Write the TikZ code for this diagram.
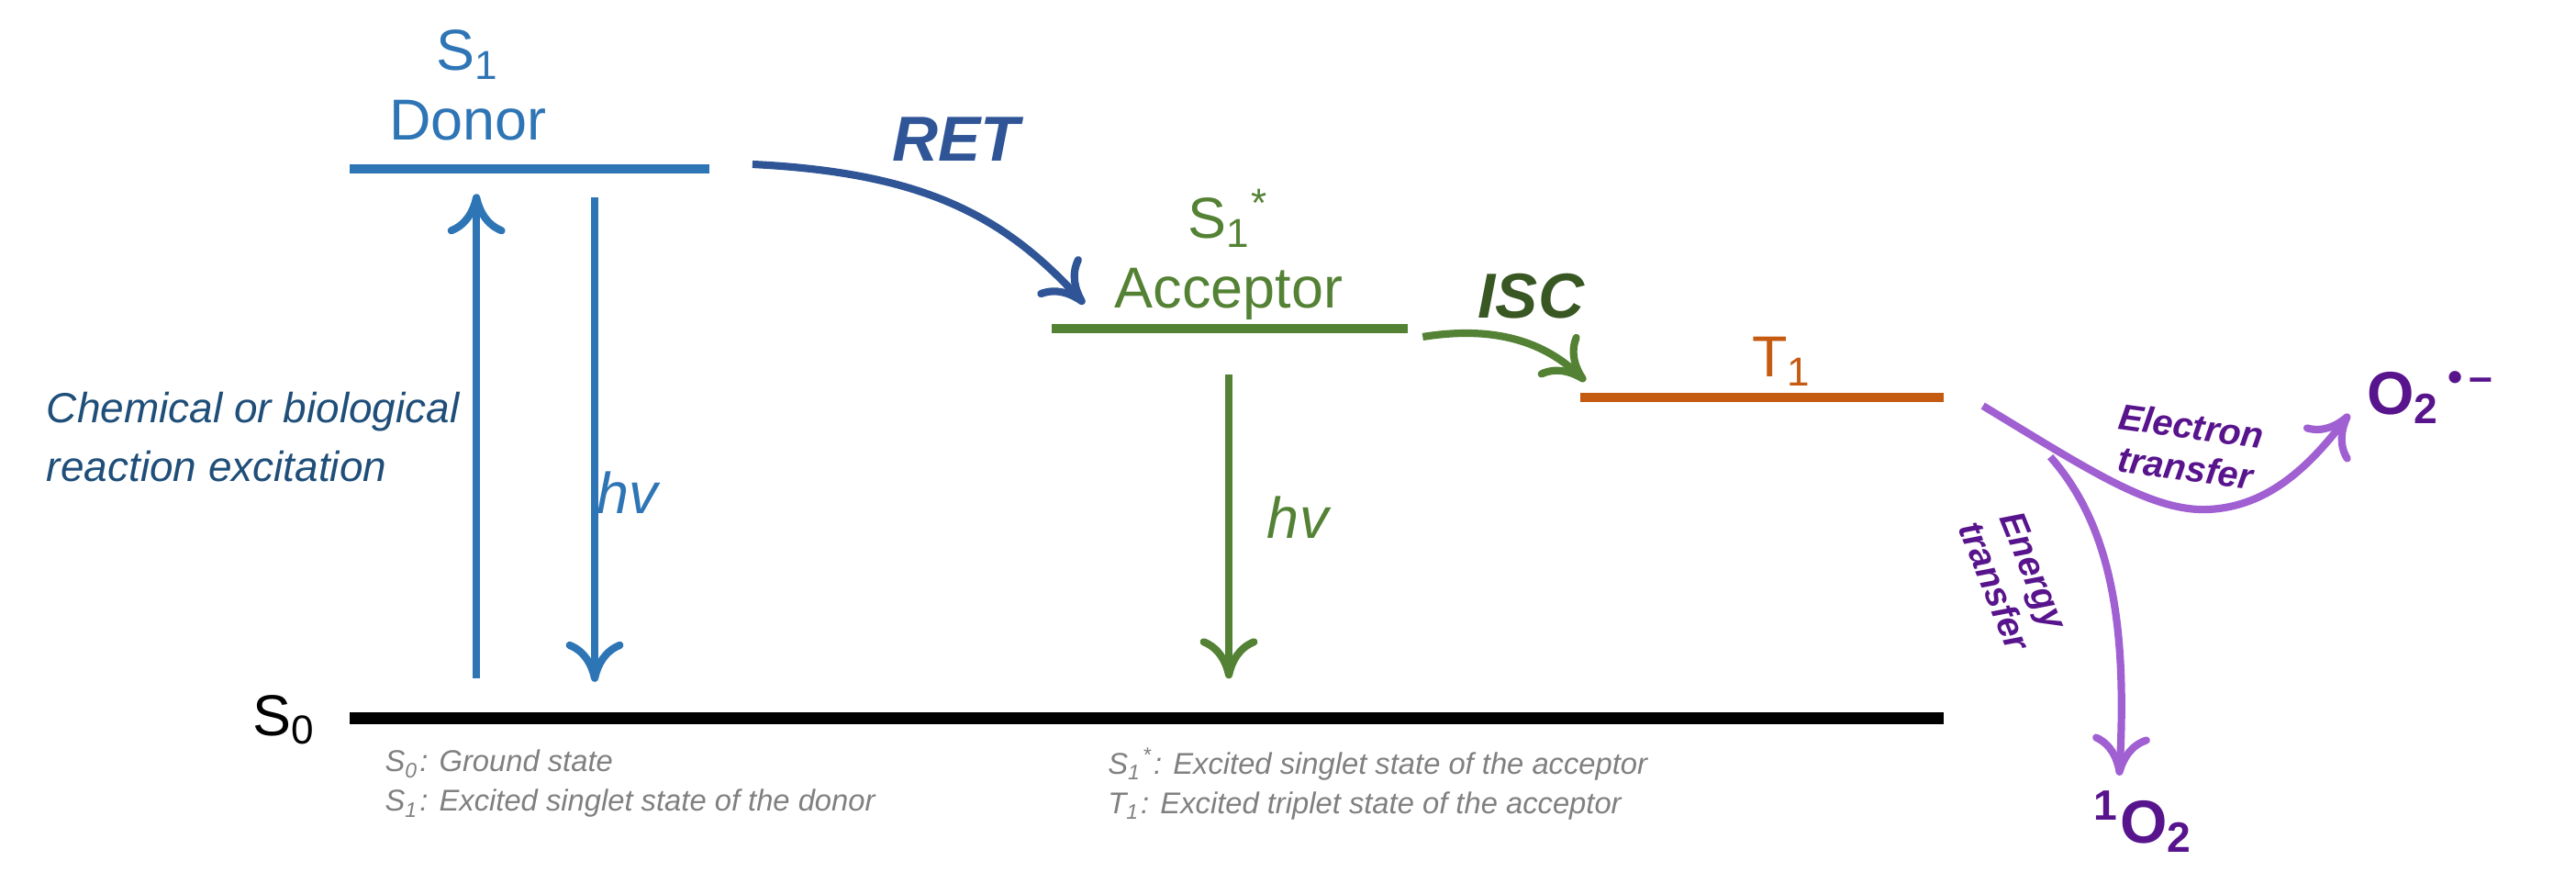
\documentclass[tikz,border=0pt]{standalone}
\usepackage{fontspec}
\setmainfont{Liberation Sans}
\usetikzlibrary{arrows.meta}
\definecolor{dblue}{RGB}{46,117,182}
\definecolor{nblue}{RGB}{47,85,151}
\definecolor{tblue}{RGB}{31,78,121}
\definecolor{dgreen}{RGB}{84,130,53}
\definecolor{ddgreen}{RGB}{56,87,35}
\definecolor{dorange}{RGB}{197,90,17}
\definecolor{dpurple}{RGB}{88,20,140}
\definecolor{lpurple}{RGB}{160,96,210}
\tikzset{
 lvl/.style={line width=1.6pt},
 arr/.style={line width=1.3pt,-{To[length=7pt,width=10pt]}},
 lab/.style={font=\fontsize{10}{12}\selectfont},
 foot/.style={font=\fontsize{5.2}{6.8}\selectfont\itshape,text=gray,align=left,anchor=west},
 x=0.01cm,y=-0.01cm
}
\begin{document}
\begin{tikzpicture}
\useasboundingbox (0,0) rectangle (1568,537);
% donor
\node[lab,text=dblue,align=center] (donor) at (285,52) {S\textsubscript{1}\\Donor};
\coordinate (d1) at (213,103); \coordinate (d2) at (432,103);
\draw[lvl,dblue] (d1) -- (d2);
\coordinate (s1) at (213,437); \coordinate (s2) at (1183,437);
\draw[line width=2pt] (s1) -- (s2);
\node[lab,anchor=east] (s0) at (205,438) {S\textsubscript{0}};
\coordinate (ua) at (290,413); \coordinate (ub) at (290,118);
\draw[arr,dblue] (ua) -- (ub);
\coordinate (da) at (362,120); \coordinate (db) at (362,415);
\draw[arr,dblue] (da) -- (db);
\node[text=tblue,align=left,font=\fontsize{7.3}{10.2}\selectfont\itshape,anchor=west] (chem) at (16,266) {Chemical or biological\\reaction excitation};
\node[lab,text=dblue,font=\fontsize{10}{12}\selectfont\itshape] (hv1) at (382,300) {hv};
% RET
\coordinate (r1) at (458,100); \coordinate (r2) at (660,185);
\draw[arr,nblue] (r1) .. controls (560,105) and (610,130) .. (r2);
\node[text=nblue,font=\fontsize{11}{13}\selectfont\bfseries\itshape] (ret) at (582,85) {RET};
% acceptor
\node[lab,text=dgreen,align=center] (acc) at (748,155) {S\textsubscript{1}\textsuperscript{*}\\Acceptor};
\coordinate (a1) at (640,200); \coordinate (a2) at (857,200);
\draw[lvl,dgreen] (a1) -- (a2);
\coordinate (ha) at (748,228); \coordinate (hb) at (748,413);
\draw[arr,dgreen] (ha) -- (hb);
\node[lab,text=dgreen,font=\fontsize{10}{12}\selectfont\itshape] (hv2) at (790,315) {hv};
% ISC
\coordinate (i1) at (866,205); \coordinate (i2) at (965,232);
\draw[arr,dgreen] (i1) .. controls (910,198) and (940,208) .. (i2);
\node[text=ddgreen,font=\fontsize{11}{13}\selectfont\bfseries\itshape] (isc) at (932,180) {ISC};
% T1
\node[lab,text=dorange] (t1) at (1085,220) {T\textsubscript{1}};
\coordinate (t1a) at (962,242); \coordinate (t1b) at (1183,242);
\draw[lvl,dorange] (t1a) -- (t1b);
% purple
\coordinate (p0) at (1207,247); \coordinate (pe) at (1430,252);
\draw[arr,lpurple] (p0) .. controls (1270,285) and (1310,312) .. (1345,310) .. controls (1380,308) and (1405,285) .. (pe);
\coordinate (q0) at (1248,278); \coordinate (qe) at (1290,472);
\draw[arr,lpurple] (q0) .. controls (1285,320) and (1295,380) .. (qe);
\node[text=dpurple,align=center,font=\fontsize{6.3}{7.3}\selectfont\bfseries\itshape,rotate=-8] (et) at (1332,272) {Electron\\transfer};
\node[text=dpurple,align=center,font=\fontsize{6.3}{7.3}\selectfont\bfseries\itshape,rotate=-68] (en) at (1226,352) {Energy\\transfer};
\node[text=dpurple,font=\fontsize{10.5}{13}\selectfont\bfseries] (o2r) at (1480,242) {O\textsubscript{2}\textsuperscript{\,•\,–}};
\node[text=dpurple,font=\fontsize{10.5}{13}\selectfont\bfseries] (o2s) at (1305,500) {\textsuperscript{1}O\textsubscript{2}};
% footnotes
\node[foot] (f1) at (222,477) {S\textsubscript{0}: Ground state\\S\textsubscript{1}: Excited singlet state of the donor};
\node[foot] (f2) at (662,477) {S\textsubscript{1}\textsuperscript{*}: Excited singlet state of the acceptor\\T\textsubscript{1}: Excited triplet state of the acceptor};
\end{tikzpicture}
\end{document}
